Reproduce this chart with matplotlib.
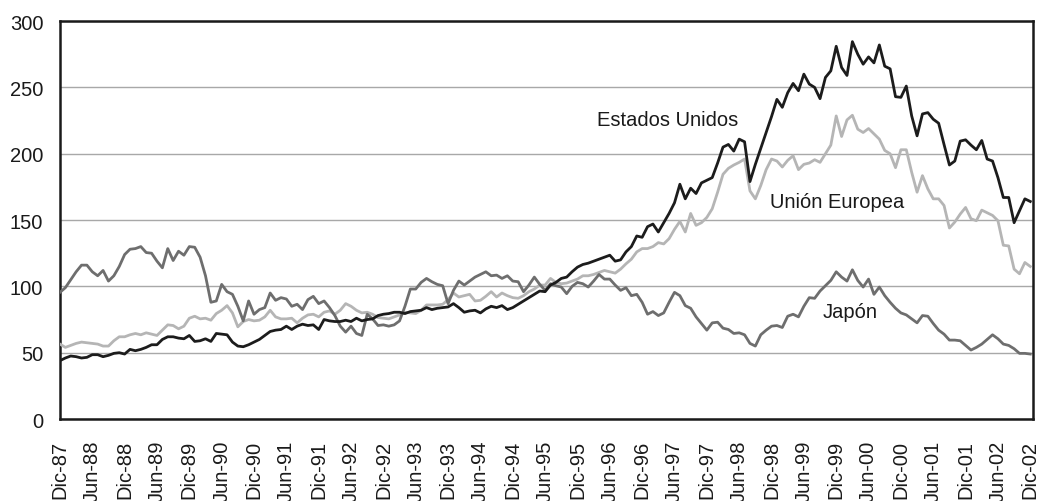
import numpy as np
import matplotlib.pyplot as plt

plt.rcParams['font.family'] = ['Liberation Sans', 'DejaVu Sans']

# ------------------------------
# monthly index values, Dic-87 .. Dic-02 (181 months)
# ------------------------------
estados_unidos = [
    44, 46, 47.5, 47, 46, 46.5, 48.5, 48.5, 47, 48, 49.5, 50, 49, 52.5, 51.5, 52.5, 54, 56, 56, 60,
    62, 62, 61, 60.5, 63, 58.5, 59, 60.5, 58.5, 64.5, 64, 63.5, 58, 55, 54.5, 56, 58, 60, 63, 66,
    67, 67.5, 70, 67.5, 70, 71.5, 70.5, 71, 67.5, 75, 74, 73.5, 73.5, 74.5, 73.5, 76, 74, 75, 75.5, 78,
    79, 79.5, 80.5, 80.5, 79.5, 81, 81.5, 82, 84, 82.5, 83.5, 84, 84.5, 87, 84, 80.5, 81.5, 82, 80, 83,
    85, 84, 85.5, 82.5, 84, 86.5, 89, 91.5, 94, 96.5, 96, 101, 103, 106, 107, 111, 114.5, 116.5, 117.5, 119,
    120.5, 122, 123.5, 119, 120, 126, 130, 138, 137, 145, 147, 141, 148, 155, 163, 177, 166, 174, 170, 178,
    180, 182, 193, 205, 207, 202, 211, 209, 179, 192, 204, 216, 228, 241, 235, 246, 253, 247.5, 260, 252.5,
    250, 241.5, 257.5, 262.5, 281, 265, 259, 284.5, 275, 267.5, 273, 268.5, 282, 266, 264, 243, 242.5, 251, 228.5, 213.5,
    230, 231, 226, 223, 207, 191.5, 194.5, 209.5, 210.5, 206.5, 203, 210, 196, 194.5, 182, 167, 167, 148, 157, 166,
    164,
]

union_europea = [
    56.5, 54, 55.5, 57, 58, 57.5, 57, 56.5, 55, 55, 59, 62, 62, 63.5, 64.5, 63.5, 65, 64, 63, 67,
    71, 70.5, 68, 70, 76, 77.5, 75.5, 76, 74.5, 79.5, 82, 85.5, 80, 69.5, 73.5, 75, 74, 74.5, 77, 82,
    77, 75.5, 75.5, 76, 72.5, 76, 78.5, 79, 77, 80.5, 81.5, 79, 82, 87, 85, 82, 80, 80.5, 79, 76.5,
    76, 75.5, 77, 78.5, 80.5, 80, 79.5, 82, 86, 86, 86, 86.5, 90, 95, 92, 93, 94, 89, 89.5, 92.5,
    96, 92, 95, 93, 91.5, 91, 93, 96, 98, 101, 101, 106, 103, 102, 102.5, 104, 105.5, 108, 108, 109,
    110.5, 112, 111, 110, 113, 117, 120.5, 126, 128.5, 128.5, 130, 133, 132, 136, 143, 149, 141, 155, 146, 148,
    152, 158.5, 171, 184.5, 189, 191.5, 193.5, 196, 172, 166, 176, 188, 196, 194.5, 190, 195, 198.5, 188, 192, 193,
    195.5, 193.5, 200, 206.5, 228.5, 213, 225.5, 229, 218.5, 216, 219, 215, 211, 202.5, 200, 189.5, 203, 203, 186, 171,
    183.5, 173.5, 166, 166, 161, 144, 148.5, 154.5, 159.5, 151, 149.5, 157.5, 155.5, 153.5, 149.5, 131, 130.5, 113, 109.5, 118,
    115,
]

japon = [
    95.5, 99, 105, 111, 116, 116, 111, 108, 112, 104, 108, 115, 124, 128, 128.5, 130, 125.5, 125, 119, 114,
    128.5, 119.5, 126.5, 123.5, 130, 129.5, 122, 108, 88, 89, 101.5, 96, 94, 85, 74, 89, 79, 82.5, 84, 95,
    89.5, 91.5, 90.5, 85, 86.5, 82.5, 90, 92.5, 87, 89, 84, 78, 70, 65.5, 70, 64.5, 63, 79, 75.5, 70.5,
    71, 70, 71, 74, 85, 98, 98, 103, 106, 103.5, 101.5, 100.5, 87, 97, 104, 101, 104, 107, 109, 111,
    108, 108.5, 106, 108, 104, 103.5, 96, 101, 107, 101.5, 97, 102, 100.5, 99.5, 94.5, 100, 103, 102, 99.5, 104,
    109, 105.5, 105.5, 101, 97, 99, 93, 94, 88, 79, 81, 78, 80, 88, 95.5, 93, 85.5, 83.5, 77, 72,
    67, 72.5, 73, 68.5, 67.5, 64.5, 65, 63.5, 57, 55, 63.5, 67, 70, 70.5, 69, 77.5, 79, 77, 85, 91.5,
    91, 96.5, 100.5, 104.5, 111, 107, 104, 112.5, 104.5, 99.5, 105.5, 94, 99.5, 93, 88, 83.5, 80, 78.5, 75.5, 72.5,
    78, 77.5, 72, 67, 64, 59.5, 59.5, 59, 55.5, 52, 54, 56.5, 60, 63.5, 60.5, 56.5, 55.5, 53, 49.5, 49.5,
    49,
]

tick_labels = [
    'Dic-87', 'Jun-88', 'Dic-88', 'Jun-89', 'Dic-89', 'Jun-90', 'Dic-90', 'Jun-91',
    'Dic-91', 'Jun-92', 'Dic-92', 'Jun-93', 'Dic-93', 'Jun-94', 'Dic-94', 'Jun-95',
    'Dic-95', 'Jun-96', 'Dic-96', 'Jun-97', 'Dic-97', 'Jun-98', 'Dic-98', 'Jun-99',
    'Dic-99', 'Jun-00', 'Dic-00', 'Jun-01', 'Dic-01', 'Jun-02', 'Dic-02',
]

months = np.arange(len(estados_unidos))

# ------------------------------
# figure
# ------------------------------
fig = plt.figure(figsize=(10.39, 5.02), dpi=100)
ax = fig.add_axes([0.0577, 0.1633, 0.9365, 0.7927])

ax.plot(months, union_europea, color='#b5b5b5', lw=2.0, zorder=3)
ax.plot(months, japon, color='#6e6e6e', lw=2.0, zorder=3)
ax.plot(months, estados_unidos, color='#1c1c1c', lw=2.0, zorder=4)

ax.set_xlim(0, 180.5)
ax.set_ylim(0, 300)
ax.set_yticks(np.arange(0, 301, 50))
ax.set_xticks(np.arange(0, 181, 6))
ax.set_xticklabels(tick_labels, rotation=90)

ax.yaxis.grid(True, color='#a8a8a8', lw=1.0)
ax.set_axisbelow(True)
ax.tick_params(axis='both', length=0, labelsize=14.5, colors='#1a1a1a')
ax.tick_params(axis='y', pad=12)
ax.tick_params(axis='x', pad=15)

for s in ax.spines.values():
    s.set_color('#1a1a1a')
    s.set_linewidth(1.8)

ax.text(112.7, 226, 'Estados Unidos', fontsize=14.5, color='#1a1a1a', ha='center', va='center')
ax.text(144.1, 164, 'Unión Europea', fontsize=14.5, color='#1a1a1a', ha='center', va='center')
ax.text(146.6, 81, 'Japón', fontsize=14.5, color='#1a1a1a', ha='center', va='center')

fig.savefig('out.png', dpi=100)
